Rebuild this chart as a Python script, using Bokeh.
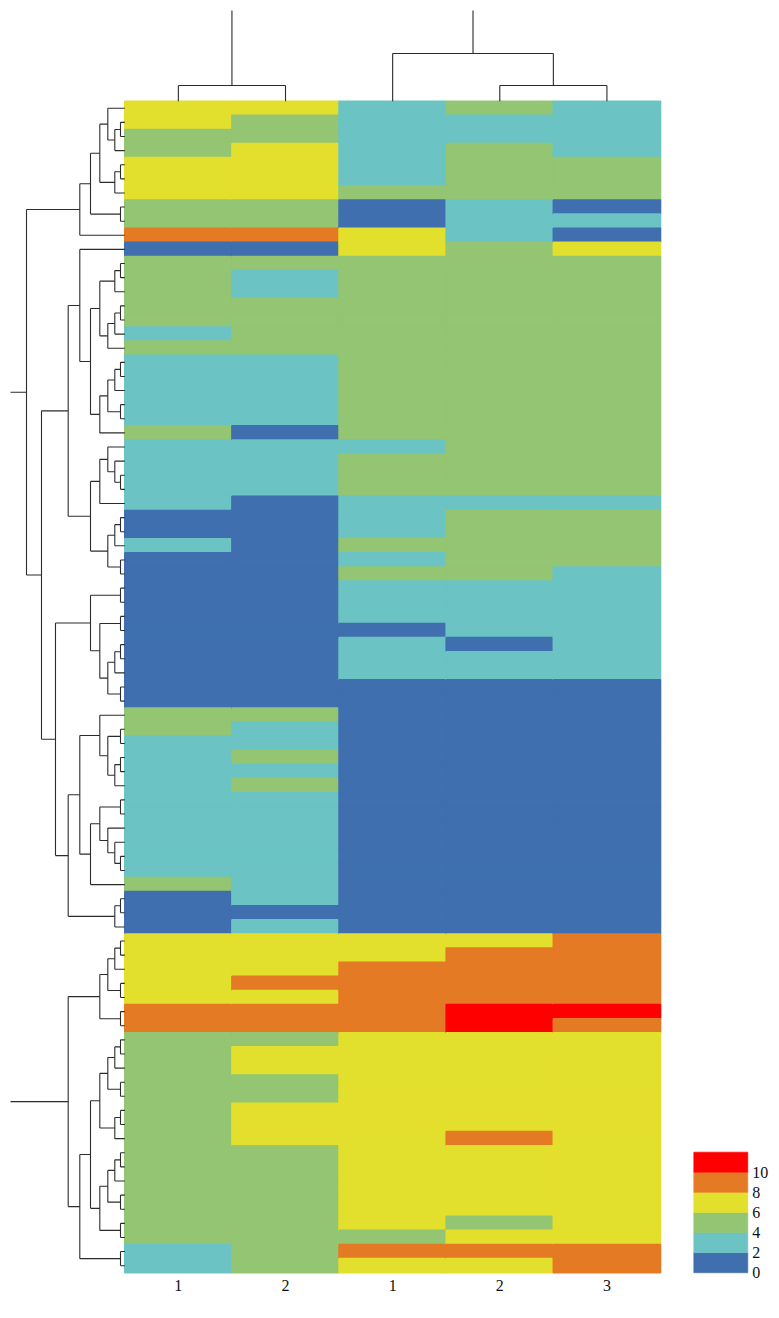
import numpy as np
from bokeh.plotting import figure
from bokeh.models import Range1d, ColumnDataSource, LinearColorMapper
from bokeh.transform import transform
from bokeh.core.properties import value
from bokeh.embed import file_html
from bokeh.resources import INLINE

# ---------------- data ----------------
col_labels = ["1", "2", "1", "2", "3"]

# binned values of the 83 rows (top -> bottom), one list per column
col1 = [7, 7, 5, 5, 7, 7, 7, 5, 5, 9,
        1, 5, 5, 5, 5, 5, 3, 5, 3, 3,
        3, 3, 3, 5, 3, 3, 3, 3, 3, 1,
        1, 3, 1, 1, 1, 1, 1, 1, 1, 1,
        1, 1, 1, 5, 5, 3, 3, 3, 3, 3,
        3, 3, 3, 3, 3, 5, 1, 1, 1, 7,
        7, 7, 7, 7, 9, 9, 5, 5, 5, 5,
        5, 5, 5, 5, 5, 5, 5, 5, 5, 5,
        5, 3, 3]
col2 = [7, 5, 5, 7, 7, 7, 7, 5, 5, 9,
        1, 5, 3, 3, 5, 5, 5, 5, 3, 3,
        3, 3, 3, 1, 3, 3, 3, 3, 1, 1,
        1, 1, 1, 1, 1, 1, 1, 1, 1, 1,
        1, 1, 1, 5, 3, 3, 5, 3, 5, 3,
        3, 3, 3, 3, 3, 3, 3, 1, 3, 7,
        7, 7, 9, 7, 9, 9, 5, 7, 7, 5,
        5, 7, 7, 7, 5, 5, 5, 5, 5, 5,
        5, 5, 5]
col3 = [3, 3, 3, 3, 3, 3, 5, 1, 1, 7,
        7, 5, 5, 5, 5, 5, 5, 5, 5, 5,
        5, 5, 5, 5, 3, 5, 5, 5, 3, 3,
        3, 5, 3, 5, 3, 3, 3, 1, 3, 3,
        3, 1, 1, 1, 1, 1, 1, 1, 1, 1,
        1, 1, 1, 1, 1, 1, 1, 1, 1, 7,
        7, 9, 9, 9, 9, 9, 7, 7, 7, 7,
        7, 7, 7, 7, 7, 7, 7, 7, 7, 7,
        5, 9, 7]
col4 = [5, 3, 3, 5, 5, 5, 5, 3, 3, 3,
        5, 5, 5, 5, 5, 5, 5, 5, 5, 5,
        5, 5, 5, 5, 5, 5, 5, 5, 3, 5,
        5, 5, 5, 5, 3, 3, 3, 3, 1, 3,
        3, 1, 1, 1, 1, 1, 1, 1, 1, 1,
        1, 1, 1, 1, 1, 1, 1, 1, 1, 7,
        9, 9, 9, 9, 11, 11, 7, 7, 7, 7,
        7, 7, 7, 9, 7, 7, 7, 7, 7, 5,
        7, 9, 7]
col5 = [3, 3, 3, 3, 5, 5, 5, 1, 3, 1,
        7, 5, 5, 5, 5, 5, 5, 5, 5, 5,
        5, 5, 5, 5, 5, 5, 5, 5, 3, 5,
        5, 5, 5, 3, 3, 3, 3, 3, 3, 3,
        3, 1, 1, 1, 1, 1, 1, 1, 1, 1,
        1, 1, 1, 1, 1, 1, 1, 1, 1, 9,
        9, 9, 9, 9, 11, 9, 7, 7, 7, 7,
        7, 7, 7, 7, 7, 7, 7, 7, 7, 7,
        7, 9, 9]

legend_ticks = [0, 2, 4, 6, 8, 10]
legend_bins = [0, 2, 4, 6, 8, 10, 12]

# row dendrogram: (height, left, right); leaves are row indices
row_tree_upper = (9.83,
    (4.5, (3.43, (2.5, (1.7, 0, (1.0, (0.43, 1, 2), 3)),
                       (1.0, (0.43, 4, 5), 6)),
                 (0.43, 7, 8)), 9),
    (8.33,
        (5.66,
            (4.5, 10, (3.43,
                (2.5, (1.0, (0.43, 11, 12), 13),
                      (1.7, (1.0, (0.43, 14, 15), 16), 17)),
                (2.5, (1.7, (1.0, (0.43, 18, 19), 20), (0.43, 21, 22)), 23))),
            (3.43,
                (2.5, (1.7, 24, (1.0, 25, (0.43, 26, 27))), 28),
                (1.7, (1.0, (0.43, 29, 30), 31), (0.43, 32, 33)))),
        (6.93,
            (3.43, (0.43, 34, 35),
                (2.5, (0.43, 36, 37),
                    (1.7, (1.0, (0.43, 38, 39), 40), (0.43, 41, 42)))),
            (5.66,
                (4.5,
                    (2.5, 43, (1.7, (0.43, 44, 45), (1.0, (0.43, 46, 47), 48))),
                    (3.43, (2.5, (0.43, 49, 50),
                                 (1.7, 51, (1.0, 52, (0.43, 53, 54)))), 55)),
                (1.0, (0.43, 56, 57), 58)))))
row_tree_lower = (5.66,
    (2.5, (1.7, (1.0, (0.43, 59, 60), 61), (0.43, 62, 63)), (0.43, 64, 65)),
    (4.5,
        (3.43,
            (2.5, (1.7, (1.0, (0.43, 66, 67), 68), (0.43, 69, 70)),
                  (1.0, (0.43, 71, 72), 73)),
            (2.5, (1.7, (1.0, (0.43, 74, 75), 76), (0.43, 77, 78)),
                  (0.43, 79, 80))),
        (0.43, 81, 82)))
row_root_height = 11.43

# column dendrogram
col_trees = [(1.57, 0, 1), (4.77, 2, (1.57, 3, 4))]
col_root_height = 9.07

# ---------------- layout / style ----------------
W, H = 775, 1310
HM_LEFT, HM_TOP = 124.3, 100.7       # px of heatmap corner inside the figure
CELL_W, CELL_H = 107.14, 14.115       # px per column / row
ROW_DIST_PX = 10.0                    # px per unit of row-dendrogram height
COL_DIST_PX = 10.0                    # px per unit of column-dendrogram height

colors = ["#3F6FAE", "#6BC3C3", "#93C572", "#E3DF2D", "#E57A24", "#FE0000"]
mapper = LinearColorMapper(palette=colors, low=0, high=12)

x0 = -HM_LEFT / CELL_W
x1 = x0 + W / CELL_W
y_top = -HM_TOP / CELL_H
y_bot = y_top + H / CELL_H

p = figure(width=W, height=H, x_range=Range1d(x0, x1), y_range=Range1d(y_bot, y_top),
           output_backend="svg", toolbar_location=None, min_border=0,
           x_axis_location=None, y_axis_location=None, outline_line_color=None,
           background_fill_color="white", border_fill_color="white")
p.grid.visible = False

# ---------------- heatmap ----------------
cols = [col1, col2, col3, col4, col5]
n_rows = len(col1)
lefts, rights, tops, bottoms, vals = [], [], [], [], []
for j, c in enumerate(cols):
    for i, v in enumerate(c):
        lefts.append(j); rights.append(j + 1)
        tops.append(i); bottoms.append(i + 1)
        vals.append(v)
src = ColumnDataSource(dict(left=lefts, right=rights, top=tops, bottom=bottoms, v=vals))
p.quad(left="left", right="right", top="top", bottom="bottom", source=src,
       fill_color=transform("v", mapper), line_color=transform("v", mapper), line_width=1.6)

# ---------------- dendrograms ----------------
seg = dict(x0=[], y0=[], x1=[], y1=[])

def walk(node):
    """returns (position along leaves, height)"""
    if isinstance(node, int):
        return node + 0.5, 0.0
    h, a, b = node
    pa, ha = walk(a)
    pb, hb = walk(b)
    for pc, hc in ((pa, ha), (pb, hb)):
        seg["x0"].append(("h", hc)); seg["y0"].append(pc)
        seg["x1"].append(("h", h)); seg["y1"].append(pc)
    seg["x0"].append(("h", h)); seg["y0"].append(pa)
    seg["x1"].append(("h", h)); seg["y1"].append(pb)
    return (pa + pb) / 2, h

# rows
row_kx = ROW_DIST_PX / CELL_W
rx0, ry0, rx1, ry1 = [], [], [], []
for tree in (row_tree_upper, row_tree_lower):
    seg = dict(x0=[], y0=[], x1=[], y1=[])
    pos, h = walk(tree)
    seg["x0"].append(("h", h)); seg["y0"].append(pos)
    seg["x1"].append(("h", row_root_height)); seg["y1"].append(pos)
    rx0 += [-t[1] * row_kx for t in seg["x0"]]
    rx1 += [-t[1] * row_kx for t in seg["x1"]]
    ry0 += seg["y0"]; ry1 += seg["y1"]
p.segment(rx0, ry0, rx1, ry1, line_color="#2b2b2b", line_width=1.1)

# columns
col_ky = COL_DIST_PX / CELL_H
cx0, cy0, cx1, cy1 = [], [], [], []
for tree in col_trees:
    seg = dict(x0=[], y0=[], x1=[], y1=[])
    pos, h = walk(tree)
    seg["x0"].append(("h", h)); seg["y0"].append(pos)
    seg["x1"].append(("h", col_root_height)); seg["y1"].append(pos)
    cy0 += [-t[1] * col_ky for t in seg["x0"]]
    cy1 += [-t[1] * col_ky for t in seg["x1"]]
    cx0 += seg["y0"]; cx1 += seg["y1"]
p.segment(cx0, cy0, cx1, cy1, line_color="#2b2b2b", line_width=1.1)

# ---------------- column labels ----------------
p.text(x=[j + 0.5 for j in range(len(col_labels))], y=[n_rows + 0.93] * len(col_labels),
       text=col_labels, text_font=value("Liberation Serif"), text_font_size="16px",
       text_align="center", text_baseline="middle", text_color="#111111")

# ---------------- colour legend ----------------
LEG_X0 = 5 + 33.3 / CELL_W
LEG_X1 = 5 + 87.3 / CELL_W
leg_k = 10.05 / CELL_H          # rows per legend unit
bl = legend_bins[:-1]
br = legend_bins[1:]
lsrc = ColumnDataSource(dict(
    top=[n_rows - b * leg_k for b in br], bottom=[n_rows - b * leg_k for b in bl],
    v=[(a + b) / 2 for a, b in zip(bl, br)]))
p.quad(left=LEG_X0, right=LEG_X1, top="top", bottom="bottom", source=lsrc,
       fill_color=transform("v", mapper), line_color=transform("v", mapper), line_width=0.6)
p.text(x=[5 + 91.7 / CELL_W] * len(legend_ticks), y=[n_rows - t * leg_k for t in legend_ticks],
       text=[str(t) for t in legend_ticks], text_font=value("Liberation Serif"),
       text_font_size="16px", text_align="left", text_baseline="middle", text_color="#111111")

open("out.html", "w").write(file_html(p, INLINE))
